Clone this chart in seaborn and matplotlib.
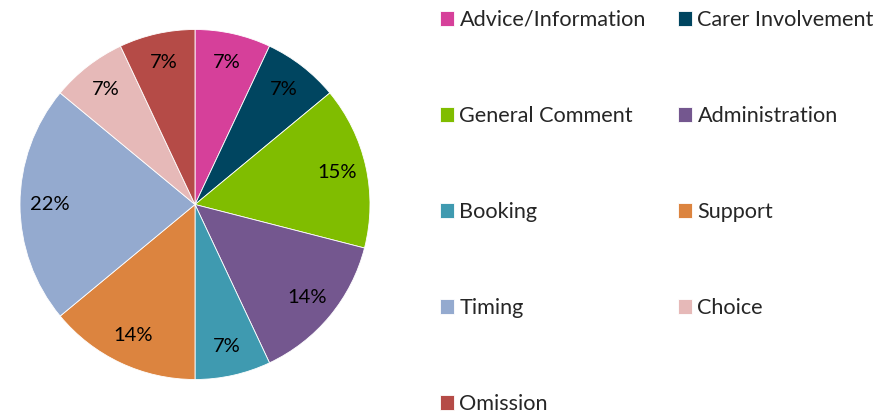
import matplotlib
matplotlib.use("Agg")
import matplotlib.pyplot as plt
import seaborn as sns

categories = ["Advice/Information", "Carer Involvement", "General Comment", "Administration",
              "Booking", "Support", "Timing", "Choice", "Omission"]
values = [7, 7, 15, 14, 7, 14, 22, 7, 7]
colors = ["#D6409A", "#004560", "#80BD00", "#74578F", "#3F9AB0", "#DC843F", "#94AACF", "#E6B9B8", "#B54B47"]

sns.set_style("white")
plt.rcParams["font.family"] = ["Lato", "DejaVu Sans"]

fig = plt.figure(figsize=(8.95, 4.17), dpi=100)
ax = fig.add_axes([20/895, 37/417, 350/895, 351/417])
wedges, texts, autotexts = ax.pie(values, colors=colors, startangle=90, counterclock=False,
                                  autopct="%.0f%%", pctdistance=0.83, radius=1,
                                  wedgeprops=dict(linewidth=0.6, edgecolor="white"),
                                  textprops=dict(fontsize=14.5, color="black"))
ax.set_xlim(-1, 1)
ax.set_ylim(-1, 1)
ax.set_aspect("equal")

order = [0, 2, 4, 6, 8, 1, 3, 5, 7]
leg = fig.legend([wedges[i] for i in order], [categories[i] for i in order],
                 ncol=2, frameon=False, loc="upper left",
                 bbox_to_anchor=(440/895, 1 - 10/417), fontsize=15.6,
                 handlelength=0.65, handleheight=0.65, handletextpad=0.25,
                 labelspacing=3.51, columnspacing=1.48, borderaxespad=0, borderpad=0)
fig.savefig("out.png", dpi=100, facecolor="white")
